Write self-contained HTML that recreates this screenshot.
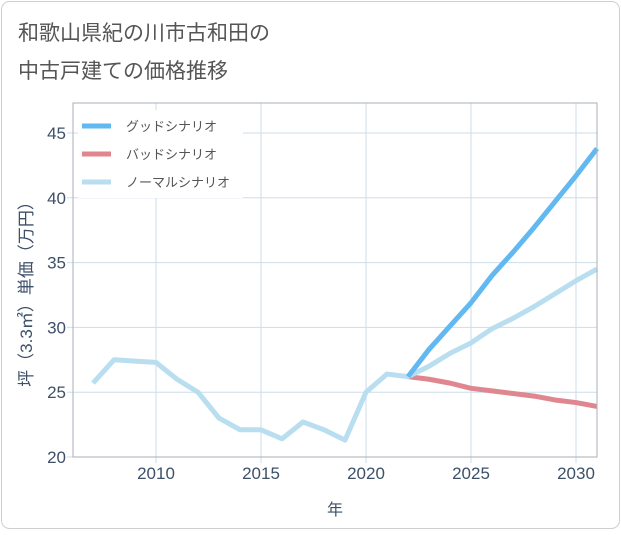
<!DOCTYPE html>
<html><head><meta charset="utf-8"><style>
body{margin:0;background:#fff;font-family:"Liberation Sans","Noto Sans CJK JP",sans-serif;}
#wrap{position:relative;width:621px;height:530px;}
</style></head><body>
<div id="wrap">
<svg id="chart" width="621" height="530" style="font-family:'Liberation Sans','Noto Sans CJK JP',sans-serif">
<rect x="1.5" y="1.5" width="618" height="527" rx="8" fill="#fff" stroke="#cfcfcf"/>
<text x="18" y="40" font-size="21" fill="#555">和歌山県紀の川市古和田の</text>
<text x="18" y="78" font-size="21" fill="#555">中古戸建ての価格推移</text>
<rect x="73" y="103" width="524" height="354" fill="#fff"/>
<g id="grid"></g>
<g id="series"></g>
<rect x="73" y="103" width="524" height="354" fill="none" stroke="#a8b0b8" stroke-width="1"/>
<g id="legend"></g>
<text x="335" y="515" font-size="16" fill="#3d5068" text-anchor="middle">年</text>
<text transform="translate(32,290) rotate(-90)" font-size="17" fill="#3d5068" text-anchor="middle">坪（3.3㎡）単価（万円）</text>
</svg>
</div>
<script>
const years=[2007,2008,2009,2010,2011,2012,2013,2014,2015,2016,2017,2018,2019,2020,2021,2022,2023,2024,2025,2026,2027,2028,2029,2030,2031];
const normalValues=[25.7,27.5,27.4,27.3,26.0,25.0,23.0,22.1,22.1,21.4,22.7,22.1,21.3,25.0,26.4,26.2,27.0,28.0,28.8,29.9,30.7,31.6,32.6,33.6,34.5];
const forecastYears=[2022,2023,2024,2025,2026,2027,2028,2029,2030,2031];
const goodValues=[26.2,28.3,30.1,31.9,34.0,35.8,37.7,39.7,41.7,43.8];
const badValues=[26.2,26.0,25.7,25.3,25.1,24.9,24.7,24.4,24.2,23.9];
const yTicks=[20,25,30,35,40,45];
const xTicks=[2010,2015,2020,2025,2030];
const legendLabels=["グッドシナリオ","バッドシナリオ","ノーマルシナリオ"];
const NS="http://www.w3.org/2000/svg";
const X=v=>156+(v-2010)*21;
const Y=v=>457-(v-20)*12.96;
function mk(t,a,p){const e=document.createElementNS(NS,t);for(const k in a)e.setAttribute(k,a[k]);p.appendChild(e);return e;}
const grid=document.getElementById('grid');
yTicks.forEach(t=>{
 const l=mk('line',{x1:67,x2:597,y1:Y(t),y2:Y(t),stroke:'#cddde9','stroke-width':1},grid);
 
 
 const tx=mk('text',{x:66,y:Y(t)+6,'font-size':17,fill:'#3d5068','text-anchor':'end'},grid);
 tx.textContent=t;
 
 
});
xTicks.forEach(t=>{
 const l=mk('line',{x1:X(t),x2:X(t),y1:103,y2:463,stroke:'#cddde9','stroke-width':1},grid);
 
 
 const tx=mk('text',{x:X(t),y:479,'font-size':17,fill:'#3d5068','text-anchor':'middle'},grid);
 tx.textContent=t;
 
 
});
const sg=document.getElementById('series');
function line(xs,vs,color,name){
 const p=mk('polyline',{points:xs.map((x,i)=>X(x)+','+Y(vs[i])).join(' '),fill:'none',stroke:color,'stroke-width':5,'stroke-linejoin':'round'},sg);
 
 
}
line(forecastYears,badValues,'#e0868f','bad-scenario-line');
line(years,normalValues,'#b8def0','normal-scenario-line');
line(forecastYears,goodValues,'#62b8f0','good-scenario-line');
const lg=document.getElementById('legend');
const bg=mk('rect',{x:78,y:110,width:165,height:88,fill:'#fff'},lg);


const lc=['#62b8f0','#e0868f','#b8def0'];
legendLabels.forEach((s,i)=>{
 const y=126+i*28;
 const l=mk('line',{x1:82,x2:111,y1:y,y2:y,stroke:lc[i],'stroke-width':5},lg);
 
 
 const t=mk('text',{x:126,y:y+5,'font-size':13,fill:'#555'},lg);
 t.textContent=s;
 
 
});
</script>
</body></html>
